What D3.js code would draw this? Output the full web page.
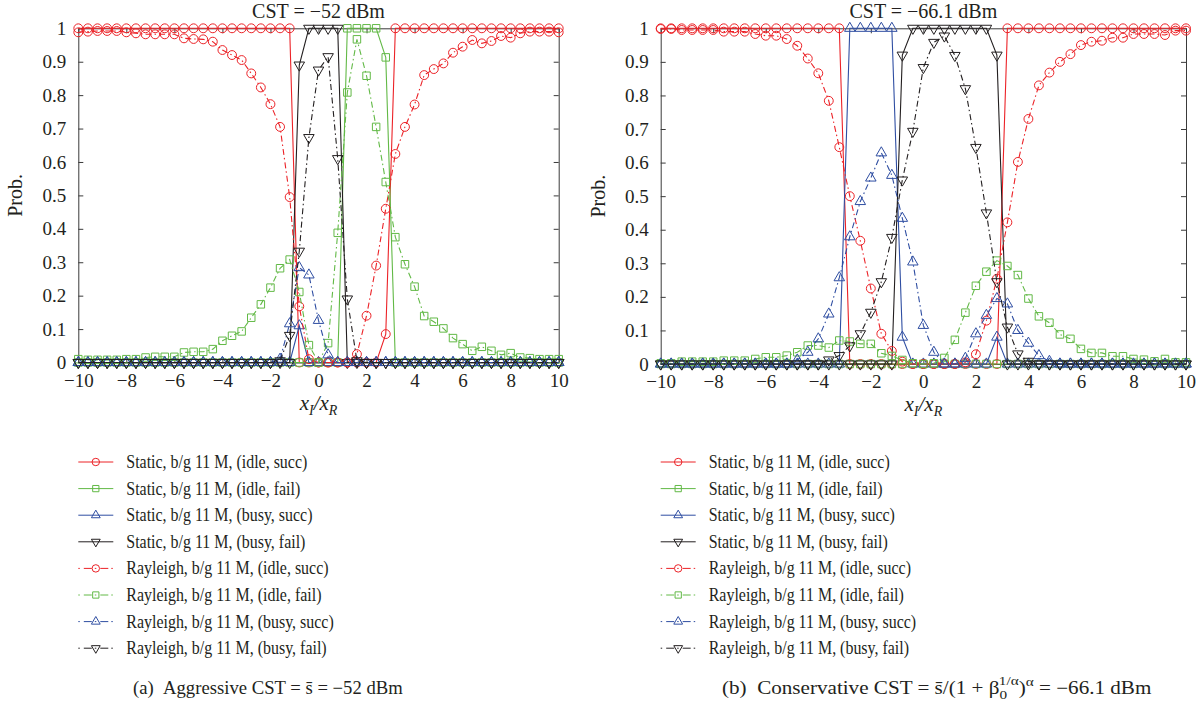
<!DOCTYPE html>
<html>
<head>
<meta charset="utf-8">
<script src="https://cdn.jsdelivr.net/npm/d3@7/dist/d3.min.js"></script>
<style>
  body { margin: 0; background: #fff; }
  svg text { font-family: "Liberation Serif", "DejaVu Serif", serif; fill: #231f20; }
</style>
</head>
<body>
<svg id="chart" width="1202" height="706"></svg>
<script>
// x_I / x_R grid (step 0.4)
const xGrid = [-10, -9.6, -9.2, -8.8, -8.4, -8, -7.6, -7.2, -6.8, -6.4, -6, -5.6, -5.2, -4.8, -4.4, -4, -3.6, -3.2, -2.8, -2.4,
  -2, -1.6, -1.2, -0.8, -0.4, 0, 0.4, 0.8, 1.2, 1.6, 2, 2.4, 2.8, 3.2, 3.6, 4, 4.4, 4.8, 5.2, 5.6,
  6, 6.4, 6.8, 7.2, 7.6, 8, 8.4, 8.8, 9.2, 9.6, 10];

const xTicks = [-10, -8, -6, -4, -2, 0, 2, 4, 6, 8, 10];
const xTickLabels = ["\u221210", "\u22128", "\u22126", "\u22124", "\u22122", "0", "2", "4", "6", "8", "10"];
const yTicks = [0, 0.1, 0.2, 0.3, 0.4, 0.5, 0.6, 0.7, 0.8, 0.9, 1];
const yTickLabels = ["0", "0.1", "0.2", "0.3", "0.4", "0.5", "0.6", "0.7", "0.8", "0.9", "1"];

const legendLabels = [
  "Static, b/g 11 M, (idle, succ)",
  "Static, b/g 11 M, (idle, fail)",
  "Static, b/g 11 M, (busy, succ)",
  "Static, b/g 11 M, (busy, fail)",
  "Rayleigh, b/g 11 M, (idle, succ)",
  "Rayleigh, b/g 11 M, (idle, fail)",
  "Rayleigh, b/g 11 M, (busy, succ)",
  "Rayleigh, b/g 11 M, (busy, fail)"
];

// ---- (a) aggressive CST = -52 dBm ----
const aStaticIdleSucc = [1, 1, 1, 1, 1, 1, 1, 1, 1, 1, 1, 1, 1, 1, 1, 1, 1, 1, 1, 1,
  1, 1, 1, 0, 0, 0, 0, 0, 0, 0, 0, 0, 0.085, 1, 1, 1, 1, 1, 1, 1,
  1, 1, 1, 1, 1, 1, 1, 1, 1, 1, 1];
const aStaticIdleFail = [0, 0, 0, 0, 0, 0, 0, 0, 0, 0, 0, 0, 0, 0, 0, 0, 0, 0, 0, 0,
  0, 0, 0, 0, 0, 0, 0, 0, 1, 1, 1, 1, 0.913, 0, 0, 0, 0, 0, 0, 0,
  0, 0, 0, 0, 0, 0, 0, 0, 0, 0, 0];
const aStaticBusySucc = [0, 0, 0, 0, 0, 0, 0, 0, 0, 0, 0, 0, 0, 0, 0, 0, 0, 0, 0, 0,
  0, 0, 0, 0.11, 0, 0, 0, 0, 0, 0, 0, 0, 0, 0, 0, 0, 0, 0, 0, 0,
  0, 0, 0, 0, 0, 0, 0, 0, 0, 0, 0];
const aStaticBusyFail = [0, 0, 0, 0, 0, 0, 0, 0, 0, 0, 0, 0, 0, 0, 0, 0, 0, 0, 0, 0,
  0, 0, 0, 0.89, 1, 1, 1, 1, 0, 0, 0, 0, 0, 0, 0, 0, 0, 0, 0, 0,
  0, 0, 0, 0, 0, 0, 0, 0, 0, 0, 0];
const aRayIdleSucc = [0.988, 0.99, 0.992, 0.992, 0.992, 0.988, 0.985, 0.982, 0.982, 0.982,
  0.982, 0.97, 0.968, 0.967, 0.96, 0.935, 0.92, 0.905, 0.865, 0.823,
  0.773, 0.705, 0.495, 0.168, 0.01, 0, 0, 0, 0, 0.025,
  0.14, 0.29, 0.46, 0.624, 0.705, 0.772, 0.86, 0.878, 0.895, 0.927,
  0.945, 0.965, 0.955, 0.962, 0.977, 0.972, 0.985, 0.99, 0.99, 0.99, 0.988];
const aRayIdleFail = [0.01, 0.008, 0.008, 0.008, 0.008, 0.01, 0.01, 0.015, 0.017, 0.017,
  0.017, 0.03, 0.032, 0.032, 0.04, 0.065, 0.08, 0.093, 0.134, 0.174,
  0.224, 0.282, 0.308, 0.211, 0.052, 0, 0.058, 0.388, 0.808, 0.967,
  0.858, 0.705, 0.54, 0.375, 0.294, 0.227, 0.139, 0.122, 0.102, 0.073,
  0.055, 0.035, 0.047, 0.035, 0.023, 0.028, 0.015, 0.013, 0.01, 0.01, 0.01];
const aRayBusySucc = [0, 0, 0, 0, 0, 0, 0, 0, 0, 0, 0, 0, 0, 0, 0, 0, 0, 0, 0, 0,
  0, 0.01, 0.116, 0.284, 0.262, 0.126, 0.023, 0, 0, 0, 0, 0, 0, 0, 0, 0, 0, 0, 0, 0,
  0, 0, 0, 0, 0, 0, 0, 0, 0, 0, 0];
const aRayBusyFail = [0, 0, 0, 0, 0, 0, 0, 0, 0, 0, 0, 0, 0, 0, 0, 0, 0, 0, 0, 0,
  0, 0.005, 0.081, 0.333, 0.673, 0.875, 0.915, 0.61, 0.19, 0.005, 0, 0, 0, 0, 0, 0, 0, 0, 0, 0,
  0, 0, 0, 0, 0, 0, 0, 0, 0, 0, 0];

// ---- (b) conservative CST = -66.1 dBm ----
const bStaticIdleSucc = [1, 1, 1, 1, 1, 1, 1, 1, 1, 1, 1, 1, 1, 1, 1, 1, 1, 1, 0, 0,
  0, 0, 0, 0, 0, 0, 0, 0, 0, 0, 0, 0, 0, 1, 1, 1, 1, 1, 1, 1,
  1, 1, 1, 1, 1, 1, 1, 1, 1, 1, 1];
const bStaticIdleFail = [0, 0, 0, 0, 0, 0, 0, 0, 0, 0, 0, 0, 0, 0, 0, 0, 0, 0, 0, 0,
  0, 0, 0, 0, 0, 0, 0, 0, 0, 0, 0, 0, 0, 0, 0, 0, 0, 0, 0, 0,
  0, 0, 0, 0, 0, 0, 0, 0, 0, 0, 0];
const bStaticBusySucc = [0, 0, 0, 0, 0, 0, 0, 0, 0, 0, 0, 0, 0, 0, 0, 0, 0, 0, 1, 1,
  1, 1, 1, 0.08, 0, 0, 0, 0, 0, 0, 0, 0, 0.08, 0, 0, 0, 0, 0, 0, 0,
  0, 0, 0, 0, 0, 0, 0, 0, 0, 0, 0];
const bStaticBusyFail = [0, 0, 0, 0, 0, 0, 0, 0, 0, 0, 0, 0, 0, 0, 0, 0, 0, 0, 0, 0,
  0, 0, 0, 0.92, 1, 1, 1, 1, 1, 1, 1, 1, 0.92, 0, 0, 0, 0, 0, 0, 0,
  0, 0, 0, 0, 0, 0, 0, 0, 0, 0, 0];
const bRayIdleSucc = [0.998, 0.998, 0.995, 0.995, 0.995, 0.995, 0.99, 0.99, 0.99, 0.983,
  0.978, 0.978, 0.968, 0.948, 0.91, 0.866, 0.784, 0.646, 0.5, 0.367,
  0.225, 0.09, 0.039, 0.007, 0, 0, 0, 0, 0, 0.005,
  0.029, 0.129, 0.254, 0.422, 0.602, 0.73, 0.83, 0.868, 0.9, 0.923,
  0.95, 0.96, 0.963, 0.972, 0.972, 0.983, 0.983, 0.983, 0.98, 0.993, 0.993];
const bRayIdleFail = [0.002, 0.002, 0.007, 0.007, 0.007, 0.007, 0.01, 0.01, 0.01, 0.015,
  0.02, 0.02, 0.025, 0.035, 0.055, 0.055, 0.049, 0.07, 0.067, 0.06,
  0.06, 0.032, 0.024, 0.012, 0.002, 0, 0.002, 0.018, 0.072, 0.153,
  0.233, 0.275, 0.308, 0.292, 0.265, 0.195, 0.142, 0.123, 0.088, 0.075,
  0.045, 0.033, 0.033, 0.023, 0.023, 0.015, 0.013, 0.008, 0.015, 0.005, 0.005];
const bRayBusySucc = [0, 0, 0, 0, 0, 0, 0, 0, 0, 0, 0, 0, 0, 0.012, 0.035, 0.075, 0.149, 0.257, 0.379, 0.484,
  0.554, 0.629, 0.562, 0.434, 0.304, 0.115, 0.035, 0, 0, 0.017,
  0.09, 0.145, 0.195, 0.179, 0.1, 0.062, 0.025, 0.008, 0, 0,
  0, 0, 0, 0, 0, 0, 0, 0, 0, 0, 0];
const bRayBusyFail = [0, 0, 0, 0, 0, 0, 0, 0, 0, 0, 0, 0, 0, 0, 0, 0, 0.012, 0.025, 0.054, 0.09,
  0.154, 0.245, 0.377, 0.548, 0.693, 0.883, 0.958, 0.977, 0.919, 0.82,
  0.645, 0.45, 0.245, 0.11, 0.03, 0.008, 0, 0, 0, 0,
  0, 0, 0, 0, 0, 0, 0, 0, 0, 0, 0];

// style per legend entry (same order as plotting)
const RED = "#ec2227", GREEN = "#62b946", BLUE = "#2f4ea2", BLACK = "#231f20";
const seriesStyle = [
  { color: RED, marker: "circle", dash: null },
  { color: GREEN, marker: "square", dash: null },
  { color: BLUE, marker: "up", dash: null },
  { color: BLACK, marker: "down", dash: null },
  { color: RED, marker: "circle", dash: "6,3,1.5,3" },
  { color: GREEN, marker: "square", dash: "6,3,1.5,3" },
  { color: BLUE, marker: "up", dash: "6,3,1.5,3" },
  { color: BLACK, marker: "down", dash: "6,3,1.5,3" }
];

const svg = d3.select("#chart");

function markerPath(type, small) {
  const k = small ? 0.7 : 1;
  if (type === "circle") return d3.symbol(d3.symbolCircle, 62 * k)();
  if (type === "square") return d3.symbol(d3.symbolSquare, 56 * k)();
  return d3.symbol(d3.symbolTriangle, 48 * k)();
}

function drawMarker(sel, type, cx, cy, color, small) {
  sel.append("path")
    .attr("d", markerPath(type, small))
    .attr("transform", `translate(${cx},${cy})` + (type === "down" ? " rotate(180)" : ""))
    .attr("fill", "none")
    .attr("stroke", color)
    .attr("stroke-width", 1);
}

// squeeze a text horizontally to a target width (reference font is narrow)
function fitWidth(textSel, x, y, targetW) {
  const w = textSel.node().getComputedTextLength();
  textSel.attr("x", 0).attr("y", 0)
    .attr("transform", `translate(${x},${y}) scale(${targetW / w},1)`);
}

function drawPanel(p) {
  const x = d3.scaleLinear().domain([-10, 10]).range([p.left, p.right]);
  const y = d3.scaleLinear().domain([0, 1]).range([p.bottom, p.top]);
  const g = svg.append("g");

  // --- axes (box with inward ticks) ---
  const axB = g.append("g").attr("transform", `translate(0,${p.bottom})`)
    .call(d3.axisBottom(x).tickValues(xTicks).tickSizeInner(-5).tickSizeOuter(0).tickPadding(11)
      .tickFormat((d, i) => xTickLabels[i]));
  const axT = g.append("g").attr("transform", `translate(0,${p.top})`)
    .call(d3.axisTop(x).tickValues(xTicks).tickSizeInner(-5).tickSizeOuter(0).tickFormat(""));
  const axL = g.append("g").attr("transform", `translate(${p.left},0)`)
    .call(d3.axisLeft(y).tickValues(yTicks).tickSizeInner(-5).tickSizeOuter(0).tickPadding(12)
      .tickFormat((d, i) => yTickLabels[i]));
  const axR = g.append("g").attr("transform", `translate(${p.right},0)`)
    .call(d3.axisRight(y).tickValues(yTicks).tickSizeInner(-5).tickSizeOuter(0).tickFormat(""));
  [axB, axT, axL, axR].forEach(a => {
    a.selectAll("path, line").attr("stroke", "#3a3a3a").attr("stroke-width", 1);
    a.selectAll("text").style("font-size", "19px").attr("fill", "#231f20");
  });

  // --- series ---
  const line = d3.line().x((d, i) => x(xGrid[i])).y(d => y(d));
  p.series.forEach((vals, k) => {
    const st = seriesStyle[k];
    g.append("path")
      .datum(vals)
      .attr("d", line)
      .attr("fill", "none")
      .attr("stroke", st.color)
      .attr("stroke-width", 1.1)
      .attr("stroke-dasharray", st.dash);
    const mg = g.append("g");
    vals.forEach((v, i) => drawMarker(mg, st.marker, x(xGrid[i]), y(v), st.color));
  });

  // --- title ---
  g.append("text")
    .attr("x", (p.left + p.right) / 2)
    .attr("y", p.top - 10)
    .attr("text-anchor", "middle")
    .style("font-size", "20px")
    .text(p.title);

  // --- x label  x_I / x_R ---
  const xl = g.append("text")
    .attr("x", (p.left + p.right) / 2)
    .attr("y", p.bottom + 47)
    .attr("text-anchor", "middle")
    .style("font-size", "21px")
    .style("font-style", "italic");
  xl.append("tspan").text("x");
  xl.append("tspan").attr("dy", 5).style("font-size", "14px").text("I");
  xl.append("tspan").attr("dy", -5).text("/x");
  xl.append("tspan").attr("dy", 5).style("font-size", "14px").text("R");

  // --- y label ---
  g.append("text")
    .attr("transform", `translate(${p.left - 56},${(p.top + p.bottom) / 2}) rotate(-90)`)
    .attr("text-anchor", "middle")
    .style("font-size", "20px")
    .text("Prob.");

  // --- legend ---
  const lg = g.append("g");
  legendLabels.forEach((lab, k) => {
    const st = seriesStyle[k];
    const cy = 462 + k * 26.6;
    const x0 = p.left, x1 = p.left + 35;
    lg.append("line")
      .attr("x1", x0).attr("x2", x1).attr("y1", cy).attr("y2", cy)
      .attr("stroke", st.color).attr("stroke-width", 1)
      .attr("stroke-dasharray", st.dash ? "1.5,4,8,3" : null);
    drawMarker(lg, st.marker, (x0 + x1) / 2, cy, st.color, true);
    const t = lg.append("text")
      .style("font-size", "19px")
      .text(lab);
    t.attr("x", 0).attr("y", 0)
      .attr("transform", `translate(${p.left + 48},${cy + 6}) scale(0.84,1)`);
  });
}

drawPanel({
  left: 78.3, right: 558.7, top: 28.3, bottom: 362.5,
  title: "CST = \u221252 dBm",
  series: [aStaticIdleSucc, aStaticIdleFail, aStaticBusySucc, aStaticBusyFail,
    aRayIdleSucc, aRayIdleFail, aRayBusySucc, aRayBusyFail]
});
drawPanel({
  left: 660.7, right: 1186, top: 28.3, bottom: 364,
  title: "CST = \u221266.1 dBm",
  series: [bStaticIdleSucc, bStaticIdleFail, bStaticBusySucc, bStaticBusyFail,
    bRayIdleSucc, bRayIdleFail, bRayBusySucc, bRayBusyFail]
});

// --- captions ---
const capA = svg.append("text").style("font-size", "18px");
capA.append("tspan").text("(a)\u2002Aggressive CST = s\u0304 = \u221252 dBm");
fitWidth(capA, 133, 694, 270);

const capB = svg.append("text").style("font-size", "18px");
capB.append("tspan").text("(b)\u2002Conservative CST = s\u0304/(1 + \u03b2");
capB.append("tspan").attr("dy", 5).style("font-size", "13px").text("0");
capB.append("tspan").attr("dx", -7).attr("dy", -14).style("font-size", "13px").text("1/\u03b1");
capB.append("tspan").attr("dy", 9).text(")");
capB.append("tspan").attr("dy", -8).style("font-size", "13px").text("\u03b1");
capB.append("tspan").attr("dy", 8).text(" = \u221266.1 dBm");
fitWidth(capB, 722, 694, 438);
</script>
</body>
</html>
